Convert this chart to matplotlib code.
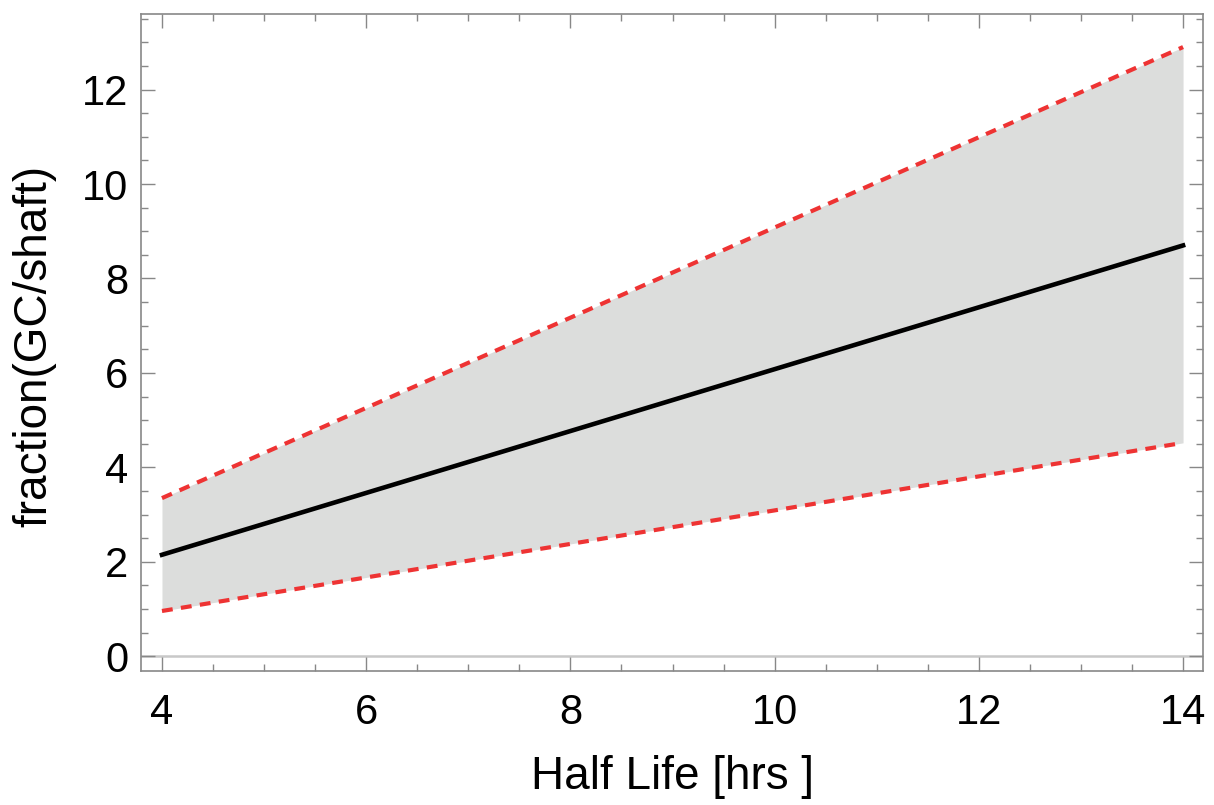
import matplotlib
matplotlib.use("Agg")
import matplotlib.pyplot as plt
from matplotlib.ticker import MultipleLocator

# values
half_life = [4, 6, 8, 10, 12, 14]
mid = [2.15, 3.46, 4.77, 6.08, 7.39, 8.70]
upper = [3.35, 5.26, 7.17, 9.08, 10.99, 12.90]
lower = [0.96, 1.67, 2.38, 3.09, 3.81, 4.52]

x_ticks = [4, 6, 8, 10, 12, 14]
y_ticks = [0, 2, 4, 6, 8, 10, 12]

plt.rcParams['font.family'] = ['Liberation Sans', 'DejaVu Sans']

fig = plt.figure(figsize=(12.14, 8.05), dpi=100)
ax = fig.add_axes([0.1161, 0.1665, 0.8749, 0.8161])

ax.fill_between(half_life, lower, upper, color='#dcdddc', lw=0, zorder=1)
ax.axhline(0, color='#c8c8c8', lw=1.8, zorder=1)
ax.plot(half_life, upper, color='#ee3333', lw=3.0, ls=(0, (2.6, 2.0)), zorder=3)
ax.plot(half_life, lower, color='#ee3333', lw=3.0, ls=(0, (2.6, 2.0)), zorder=3)
ax.plot(half_life, mid, color='black', lw=3.3, zorder=4)

ax.set_xlim(3.794, 14.196)
ax.set_ylim(-0.31, 13.6)
ax.set_xticks(x_ticks)
ax.set_yticks(y_ticks)
ax.xaxis.set_minor_locator(MultipleLocator(0.5))
ax.yaxis.set_minor_locator(MultipleLocator(0.5))

frame = '#888888'
for s in ax.spines.values():
    s.set_color(frame)
    s.set_linewidth(1.2)
ax.tick_params(which='both', direction='in', top=True, right=True, color=frame, width=1.0)
ax.tick_params(which='major', length=10)
ax.tick_params(which='minor', length=5)
ax.tick_params(axis='x', which='major', labelsize=30, pad=16)
ax.tick_params(axis='y', which='major', labelsize=30, pad=9)

ax.set_xlabel('Half Life [hrs ]', fontsize=33)
ax.set_ylabel('fraction(GC/shaft)', fontsize=33)
ax.xaxis.set_label_coords(0.5, -0.128)
ax.yaxis.set_label_coords(-0.08, 0.494)

fig.savefig('out.png', dpi=100)
